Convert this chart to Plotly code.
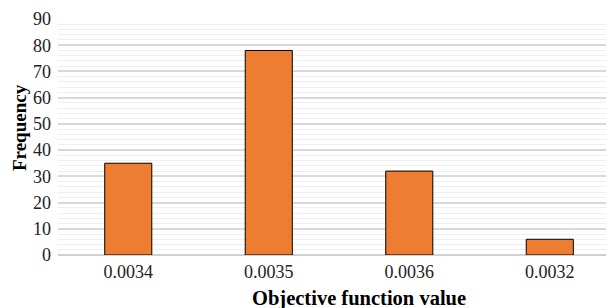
import plotly.graph_objects as go

categories = ["0.0034", "0.0035", "0.0036", "0.0032"]
frequency = [35, 78, 32, 6]
y_ticks = [0, 10, 20, 30, 40, 50, 60, 70, 80, 90]
x_title = "Objective function value"
y_title = "Frequency"

fig = go.Figure()
fig.add_trace(go.Bar(
    x=categories, y=frequency,
    marker=dict(color="#ED7D31", line=dict(color="#000000", width=1)),
    width=0.335,
))

font_family = "Times New Roman"
fig.update_layout(
    width=606, height=300,
    margin=dict(l=50, r=0, t=11, b=53, autoexpand=False),
    paper_bgcolor="white", plot_bgcolor="white",
    showlegend=False,
    font=dict(family=font_family, size=16, color="#000000"),
    xaxis=dict(
        type="category",
        range=[-0.5, 3.457],
        automargin=False,
        showgrid=False, showline=False, zeroline=False,
        ticks="", ticklabelstandoff=4,
        tickfont=dict(size=18, family=font_family, color="#222"),
    ),
    yaxis=dict(
        range=[0, 90],
        automargin=False,
        tickvals=y_ticks,
        showgrid=True, gridcolor="#d9d9d9", gridwidth=1.5,
        minor=dict(dtick=2, tick0=0, showgrid=True, gridcolor="#efefef", gridwidth=1),
        zeroline=True, zerolinecolor="#d0d0d0", zerolinewidth=2,
        showline=False, ticks="", ticklabelstandoff=6,
        tickfont=dict(size=18, family=font_family, color="#222"),
    ),
    bargap=0.665,
    annotations=[
        dict(text=f"<b>{x_title}</b>", xref="paper", yref="paper",
             x=0.541, y=0, xanchor="center", yanchor="middle", yshift=-43,
             showarrow=False, font=dict(size=20.5, family=font_family, color="#000")),
        dict(text=f"<b>{y_title}</b>", xref="paper", yref="paper",
             x=0, y=0.538, xanchor="center", yanchor="middle", xshift=-39,
             textangle=-90,
             showarrow=False, font=dict(size=19, family=font_family, color="#000")),
    ],
)

fig.write_html("out.html")
